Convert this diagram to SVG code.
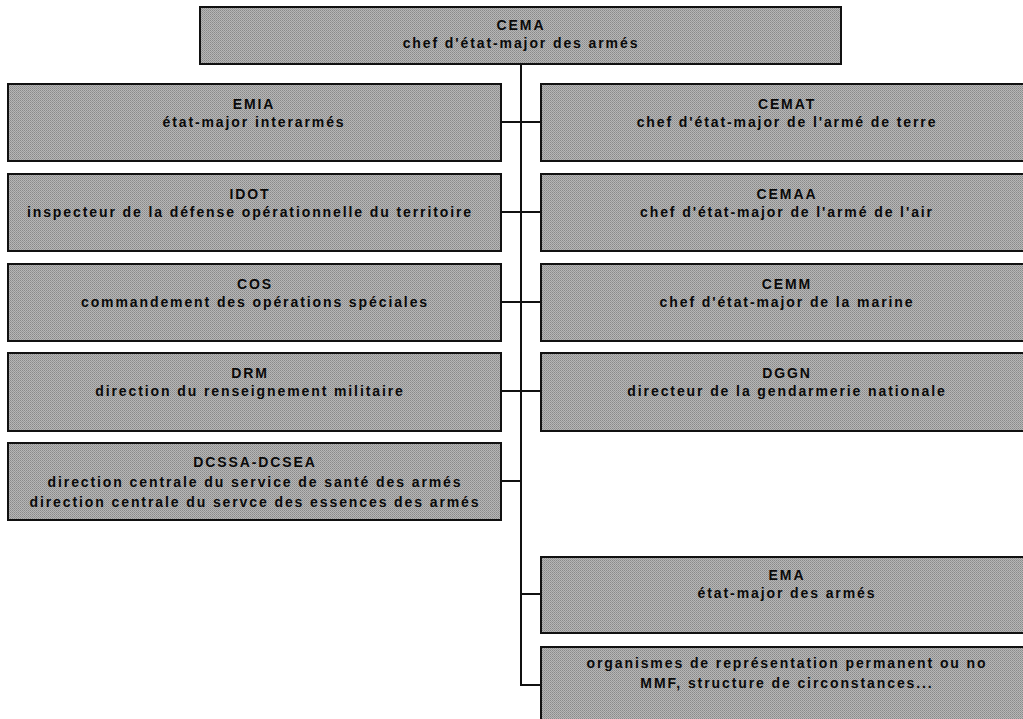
<svg xmlns="http://www.w3.org/2000/svg" width="1023" height="719" viewBox="0 0 1023 719">
<defs>
<pattern id="dither" width="2" height="2" patternUnits="userSpaceOnUse">
<rect width="2" height="2" fill="#b6b6b6"/>
<rect width="1" height="1" fill="#8a8a8a"/>
<rect x="1" y="1" width="1" height="1" fill="#989898"/>
</pattern>
<style>
.box{fill:url(#dither);stroke:#111;stroke-width:2}
.t{font-family:"Liberation Sans",Arial,sans-serif;font-weight:bold;font-size:14px;letter-spacing:1.9px;fill:#0a0a0a;text-anchor:middle}
.c{stroke:#111;stroke-width:2;fill:none}
</style>
</defs>
<rect width="1023" height="719" fill="#ffffff"/>
<g id="connectors">
<line class="c" x1="521" y1="64" x2="521" y2="686"/>
<line class="c" x1="501" y1="122" x2="541" y2="122"/>
<line class="c" x1="501" y1="212" x2="541" y2="212"/>
<line class="c" x1="501" y1="302" x2="541" y2="302"/>
<line class="c" x1="501" y1="391" x2="541" y2="391"/>
<line class="c" x1="501" y1="481" x2="521" y2="481"/>
<line class="c" x1="521" y1="594" x2="541" y2="594"/>
<line class="c" x1="520" y1="685" x2="541" y2="685"/>
</g>
<g id="CEMA">
<rect class="box" x="200" y="7" width="641" height="57"/>
<text class="t" x="521" y="30">CEMA</text>
<text class="t" x="521" y="48">chef d'état-major des armés</text>
</g>
<g id="EMIA">
<rect class="box" x="8" y="84" width="493" height="77"/>
<text class="t" x="254" y="109">EMIA</text>
<text class="t" x="254" y="127">état-major interarmés</text>
</g>
<g id="IDOT">
<rect class="box" x="8" y="174" width="493" height="77"/>
<text class="t" x="250" y="199">IDOT</text>
<text class="t" x="250" y="217">inspecteur de la défense opérationnelle du territoire</text>
</g>
<g id="COS">
<rect class="box" x="8" y="264" width="493" height="77"/>
<text class="t" x="255" y="289">COS</text>
<text class="t" x="255" y="307">commandement des opérations spéciales</text>
</g>
<g id="DRM">
<rect class="box" x="8" y="353" width="493" height="78"/>
<text class="t" x="250" y="378">DRM</text>
<text class="t" x="250" y="396">direction du renseignement militaire</text>
</g>
<g id="DCSSA-DCSEA">
<rect class="box" x="8" y="443" width="493" height="77"/>
<text class="t" x="255" y="467">DCSSA-DCSEA</text>
<text class="t" x="255" y="487">direction centrale du service de santé des armés</text>
<text class="t" x="255" y="507">direction centrale du servce des essences des armés</text>
</g>
<g id="CEMAT">
<rect class="box" x="541" y="84" width="495" height="77"/>
<text class="t" x="787" y="109">CEMAT</text>
<text class="t" x="787" y="127">chef d'état-major de l'armé de terre</text>
</g>
<g id="CEMAA">
<rect class="box" x="541" y="174" width="495" height="77"/>
<text class="t" x="787" y="199">CEMAA</text>
<text class="t" x="787" y="217">chef d'état-major de l'armé de l'air</text>
</g>
<g id="CEMM">
<rect class="box" x="541" y="264" width="495" height="77"/>
<text class="t" x="787" y="289">CEMM</text>
<text class="t" x="787" y="307">chef d'état-major de la marine</text>
</g>
<g id="DGGN">
<rect class="box" x="541" y="353" width="495" height="78"/>
<text class="t" x="787" y="378">DGGN</text>
<text class="t" x="787" y="396">directeur de la gendarmerie nationale</text>
</g>
<g id="EMA">
<rect class="box" x="541" y="557" width="495" height="76"/>
<text class="t" x="787" y="580">EMA</text>
<text class="t" x="787" y="598">état-major des armés</text>
</g>
<g id="organismes">
<rect class="box" x="541" y="647" width="495" height="80"/>
<text class="t" x="787" y="668">organismes de représentation permanent ou no</text>
<text class="t" x="787" y="688">MMF, structure de circonstances...</text>
</g>
</svg>
